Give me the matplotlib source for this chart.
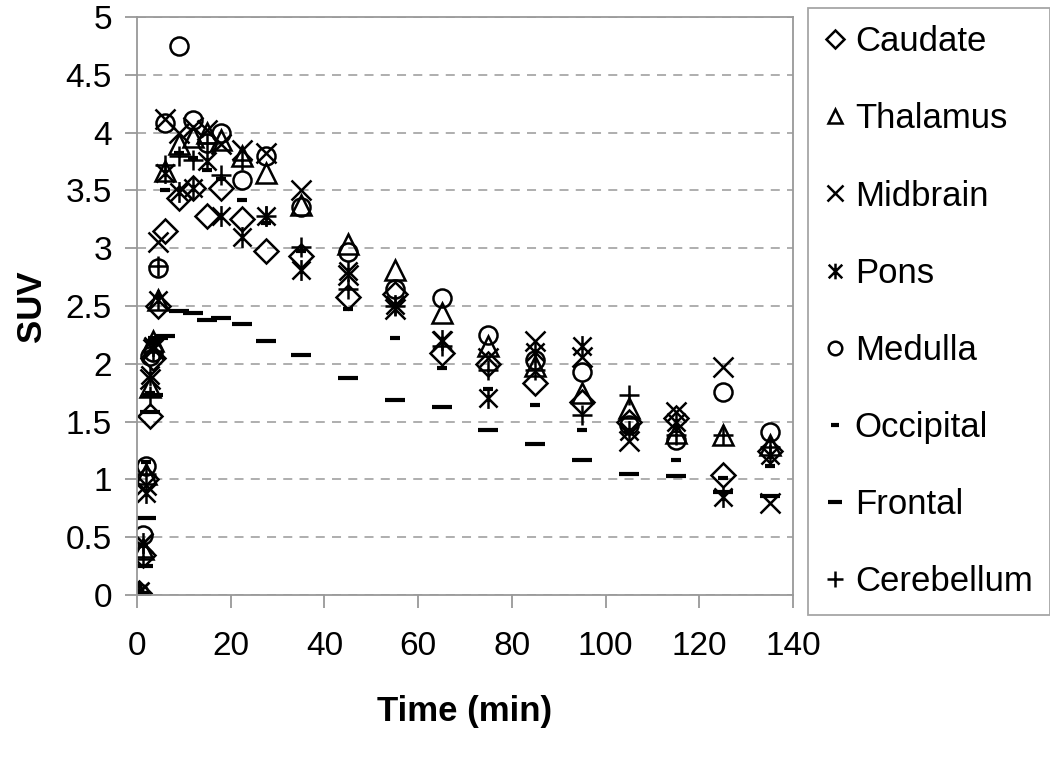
import numpy as np
import matplotlib
matplotlib.use('Agg')
import matplotlib.pyplot as plt
from matplotlib.path import Path

plt.rcParams['font.family'] = ['Liberation Sans', 'DejaVu Sans']

# time points (min)
time = [0.5, 1.25, 2, 2.75, 3.5, 4.5, 6, 9, 12, 15, 18, 22.5, 27.5,
        35, 45, 55, 65, 75, 85, 95, 105, 115, 125, 135]

caudate = [0.02, 0.35, 1.0, 1.55, 2.05, 2.5, 3.15, 3.43, 3.52, 3.28, 3.52, 3.25, 2.98,
           2.93, 2.58, 2.6, 2.09, 2.0, 1.83, 1.67, 1.5, 1.53, 1.04, 1.25]
thalamus = [0.02, 0.4, 1.05, 1.8, 2.2, 2.55, 3.67, 3.9, 3.96, 4.0, 3.94, 3.8, 3.65,
            3.37, 3.04, 2.81, 2.44, 2.15, 1.98, 1.75, 1.62, 1.4, 1.38, 1.3]
midbrain = [0.03, 0.45, 0.95, 1.87, 2.13, 3.05, 4.12, 4.0, 4.05, 4.02, 3.9, 3.85, 3.82,
            3.5, 2.77, 2.47, 2.2, 2.05, 2.2, 2.06, 1.33, 1.58, 1.97, 0.8]
pons = [0.03, 0.45, 0.88, 1.9, 2.15, 2.55, 3.65, 3.49, 3.52, 3.75, 3.28, 3.1, 3.28,
        2.81, 2.8, 2.51, 2.21, 1.7, 2.1, 2.15, 1.42, 1.5, 0.85, 1.21]
medulla = [0.02, 0.52, 1.12, 2.07, 2.1, 2.83, 4.08, 4.75, 4.11, 3.91, 4.0, 3.59, 3.8,
           3.36, 2.97, 2.65, 2.57, 2.25, 2.03, 1.93, 1.47, 1.34, 1.76, 1.41]
occipital = [0.02, 0.42, 1.15, 1.75, 2.2, 2.58, 3.5, 3.82, 3.78, 3.68, 3.6, 3.42, 3.22,
             2.98, 2.47, 2.22, 1.96, 1.78, 1.64, 1.43, 1.41, 1.17, 1.01, 1.12]
frontal = [0.02, 0.25, 0.67, 1.58, 1.73, 2.22, 2.24, 2.46, 2.44, 2.38, 2.40, 2.34, 2.2,
           2.08, 1.88, 1.69, 1.63, 1.43, 1.31, 1.17, 1.05, 1.03, 0.89, 0.86]
cerebellum = [0.02, 0.33, 1.05, 1.72, 2.1, 2.85, 3.72, 3.8, 3.76, 3.91, 3.63, 3.76, 3.28,
              3.01, 2.65, 2.5, 2.15, 1.95, 1.95, 1.56, 1.73, 1.38, 1.38, 1.28]

# excel style asterisk: X with a vertical bar
star = Path([(-1, -1), (1, 1), (-1, 1), (1, -1), (0, -1.15), (0, 1.15)],
            [Path.MOVETO, Path.LINETO, Path.MOVETO, Path.LINETO, Path.MOVETO, Path.LINETO])

series = [
    ('Caudate', caudate, 'D', 12),
    ('Thalamus', thalamus, '^', 14),
    ('Midbrain', midbrain, 'x', 15),
    ('Pons', pons, star, 15),
    ('Medulla', medulla, 'o', 13),
    ('Occipital', occipital, '_', 7),
    ('Frontal', frontal, '_', 14),
    ('Cerebellum', cerebellum, '+', 15),
]

fig = plt.figure(figsize=(10.5, 7.73), dpi=100)
ax = fig.add_axes([137 / 1050, 1 - 595 / 773, 656 / 1050, 578 / 773])

for name, vals, mk, ms in series:
    mew = 3 if mk == '_' else 1.8
    ax.plot(time, vals, ls='none', marker=mk, ms=ms, mec='black', mfc='none',
            mew=mew, label=name)

ax.set_xlim(0, 140)
ax.set_ylim(0, 5)
ax.set_xticks(np.arange(0, 141, 20))
ax.set_yticks(np.arange(0, 5.01, 0.5))
ax.set_yticklabels(['0', '0.5', '1', '1.5', '2', '2.5', '3', '3.5', '4', '4.5', '5'])
ax.yaxis.grid(True, ls=(0, (5, 4)), color='#a8a8a8', lw=1.3)
ax.set_axisbelow(True)
for s in ax.spines.values():
    s.set_color('#999999')
    s.set_linewidth(1.3)
ax.tick_params(direction='out', length=9, width=1.3, color='#999999',
               labelsize=24)
ax.tick_params(axis='x', pad=17)
ax.tick_params(axis='y', pad=9)

ax.set_xlabel('Time (min)', fontsize=25, fontweight='bold', labelpad=24)
ax.set_ylabel('SUV', fontsize=25, fontweight='bold', labelpad=13)

leg = fig.legend(loc='upper left', bbox_to_anchor=(808 / 1050, 1 - 8 / 773),
                 fontsize=25, frameon=True, fancybox=False, edgecolor='#909090',
                 markerscale=0.75, handlelength=0.55, handletextpad=0.3,
                 labelspacing=1.27, borderpad=0.5, borderaxespad=0)
leg.get_frame().set_linewidth(1.3)

fig.savefig('out.png', dpi=100)
